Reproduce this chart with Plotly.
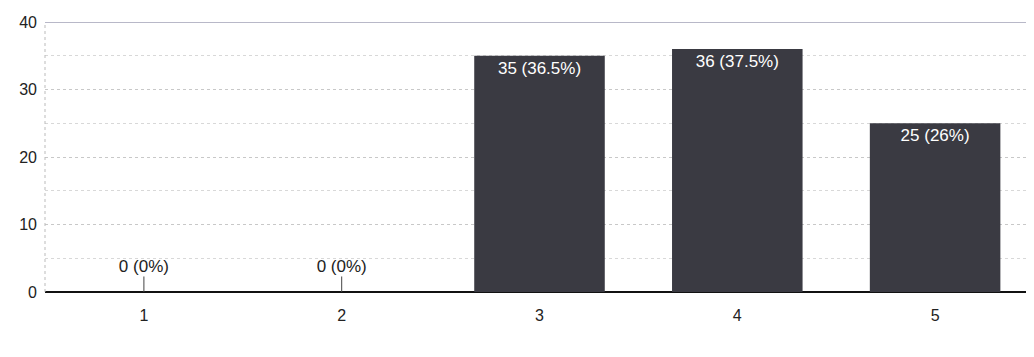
import plotly.graph_objects as go

categories = ["1", "2", "3", "4", "5"]
counts = [0, 0, 35, 36, 25]
labels = ["0 (0%)", "0 (0%)", "35 (36.5%)", "36 (37.5%)", "25 (26%)"]

bar_color = "#3a3a42"

fig = go.Figure()
fig.add_trace(go.Bar(
    x=categories, y=counts,
    marker=dict(color=bar_color, line=dict(width=0)),
    width=0.66,
    text=[l if c > 0 else "" for l, c in zip(labels, counts)],
    textposition="inside", insidetextanchor="end",
    textfont=dict(color="white", size=17, family="Liberation Sans"),
    cliponaxis=False,
))
zero_x = [c for c, v in zip(categories, counts) if v == 0]
zero_y = [v for v in counts if v == 0]
zero_t = [l for l, v in zip(labels, counts) if v == 0]
fig.add_trace(go.Scatter(
    x=zero_x, y=zero_y, mode="markers+text",
    marker=dict(size=24, color="rgba(0,0,0,0)"),
    error_y=dict(type="constant", value=2.3, valueminus=0, symmetric=False,
                 color="#444", thickness=1, width=0),
    text=zero_t, textposition="top center",
    textfont=dict(color="#222", size=17, family="Liberation Sans"),
    cliponaxis=False, hoverinfo="skip",
))

fig.update_layout(
    width=1026, height=349,
    margin=dict(l=37, r=0, t=14, b=65),
    paper_bgcolor="white", plot_bgcolor="white",
    showlegend=False, bargap=0.34,
    font=dict(family="Liberation Sans", size=16, color="#222"),
    xaxis=dict(showgrid=False, showline=False, ticks="", zeroline=False,
               ticklabelstandoff=12, automargin=False,
               tickfont=dict(size=16, color="#222")),
    yaxis=dict(range=[0, 40], dtick=10, showgrid=True, gridcolor="#c8c8c8",
               griddash="dot", gridwidth=1,
               minor=dict(dtick=5, showgrid=True, gridcolor="#d8d8d8", griddash="dot"),
               zeroline=True, zerolinecolor="#111", zerolinewidth=2,
               showline=False, ticks="", ticklabelstandoff=7, automargin=False,
               tickfont=dict(size=16, color="#222")),
)
fig.add_shape(type="line", xref="paper", yref="y", x0=0, x1=1, y0=40, y1=40,
              line=dict(color="#b8b8c8", width=2))
fig.add_shape(type="line", xref="paper", yref="paper", x0=0, x1=0, y0=0, y1=1,
              line=dict(color="#bbbbbb", width=1, dash="dot"))
fig.write_html("out.html")
